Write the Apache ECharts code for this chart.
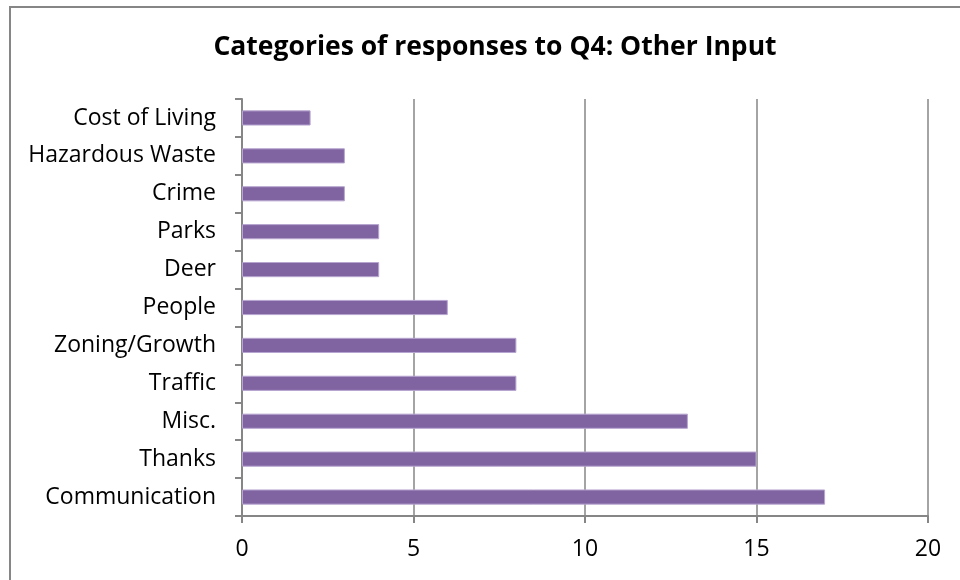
<!DOCTYPE html>
<html><head><meta charset="utf-8">
<script src="https://cdn.jsdelivr.net/npm/echarts@6/dist/echarts.min.js"></script>
<style>html,body{margin:0;padding:0;background:#fff}#c{width:960px;height:580px}</style>
</head><body><div id="c"></div>
<script>
const categories = ["Communication","Thanks","Misc.","Traffic","Zoning/Growth","People","Deer","Parks","Crime","Hazardous Waste","Cost of Living"];
const values = [17,15,13,8,8,6,4,4,3,3,2];
const xTicks = [0,5,10,15,20];
const FONT = "Open Sans";
const chart = echarts.init(document.getElementById('c'), null, {renderer:'canvas'});
chart.setOption({
  animation:false,
  backgroundColor:'#fff',
  title:{text:'Categories of responses to Q4: Other Input',left:490,top:29,textAlign:'center',
    textStyle:{fontFamily:FONT,fontWeight:'bold',fontSize:26.5,color:'#000'}},
  graphic:[{type:'rect',shape:{x:10,y:7,width:1000,height:1000},style:{fill:'none',stroke:'#868686',lineWidth:2}}],
  grid:{left:242,right:32,top:99,bottom:64},
  xAxis:{type:'value',min:xTicks[0],max:xTicks[xTicks.length-1],interval:5,
    axisLine:{show:true,lineStyle:{color:'#868686',width:2}},
    axisTick:{show:true,length:7,lineStyle:{color:'#868686',width:2}},
    splitLine:{show:true,lineStyle:{color:'#868686',width:1.5}},
    axisLabel:{margin:22,fontFamily:FONT,fontSize:23,color:'#000'}},
  yAxis:{type:'category',data:categories,
    axisLine:{show:true,lineStyle:{color:'#868686',width:2}},
    axisTick:{show:true,length:7,lineStyle:{color:'#868686',width:2}},
    axisLabel:{margin:26,fontFamily:FONT,fontSize:23,color:'#000'}},
  series:[{type:'bar',data:values,barWidth:'40%',itemStyle:{color:'#8064A2',borderColor:'#B7A5CF',borderWidth:1}}]
});
</script></body></html>
